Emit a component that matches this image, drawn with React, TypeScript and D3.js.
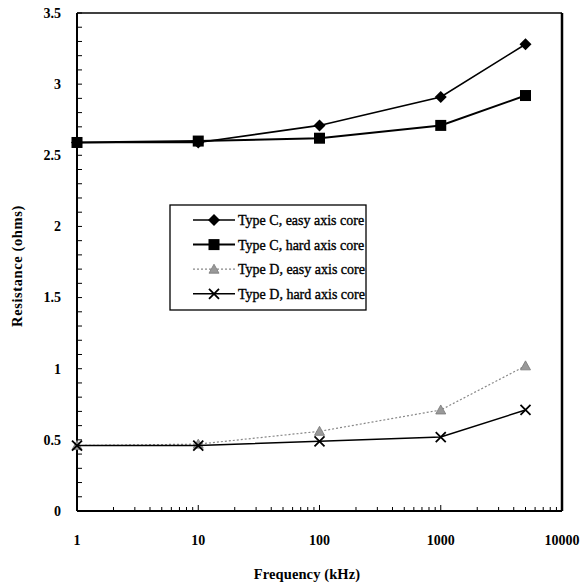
import React from "react";
import * as d3 from "d3";

const freqs = [1, 10, 100, 1000, 5000];
const typeCEasy = [2.59, 2.59, 2.71, 2.91, 3.28];
const typeCHard = [2.59, 2.6, 2.62, 2.71, 2.92];
const typeDEasy = [0.46, 0.47, 0.56, 0.71, 1.02];
const typeDHard = [0.46, 0.46, 0.49, 0.52, 0.71];
const seriesNames = [
  "Type C, easy axis core",
  "Type C, hard axis core",
  "Type D, easy axis core",
  "Type D, hard axis core",
];
const xTicks = [1, 10, 100, 1000, 10000];
const yTicks = [0, 0.5, 1, 1.5, 2, 2.5, 3, 3.5];

const W = 587;
const H = 584;
const left = 77;
const right = 562;
const top = 13;
const bottom = 511;

const FONT = "Liberation Serif, DejaVu Serif, serif";

export default function App() {
  const x = d3.scaleLog().domain([1, 10000]).range([left, right]);
  const y = d3.scaleLinear().domain([0, 3.5]).range([bottom, top]);
  const line = d3
    .line<[number, number]>()
    .x((d) => x(d[0]))
    .y((d) => y(d[1]));

  const series = [
    { name: seriesNames[0], vals: typeCEasy, color: "#000", width: 1.6, dash: "", marker: "diamond" },
    { name: seriesNames[1], vals: typeCHard, color: "#000", width: 2, dash: "", marker: "square" },
    { name: seriesNames[2], vals: typeDEasy, color: "#888", width: 1.2, dash: "2,2", marker: "triangle" },
    { name: seriesNames[3], vals: typeDHard, color: "#000", width: 1.5, dash: "", marker: "x" },
  ];

  const marker = (type: string, cx: number, cy: number, color: string, key: string) => {
    if (type === "diamond") {
      const s = 6;
      return <path key={key} d={`M${cx},${cy - s}L${cx + s},${cy}L${cx},${cy + s}L${cx - s},${cy}Z`} fill={color} />;
    }
    if (type === "square") {
      const s = 5.5;
      return <rect key={key} x={cx - s} y={cy - s} width={2 * s} height={2 * s} fill={color} />;
    }
    if (type === "triangle") {
      const s = 5;
      return (
        <path
          key={key}
          d={`M${cx},${cy - s}L${cx + s},${cy + s * 0.8}L${cx - s},${cy + s * 0.8}Z`}
          fill="#999"
          stroke="#777"
          strokeWidth={0.8}
        />
      );
    }
    const s = 5;
    return (
      <path
        key={key}
        d={`M${cx - s},${cy - s}L${cx + s},${cy + s}M${cx + s},${cy - s}L${cx - s},${cy + s}`}
        stroke={color}
        strokeWidth={1.8}
        fill="none"
      />
    );
  };

  const minorX: number[] = [];
  for (let dec = 1; dec < 10000; dec *= 10) {
    for (let k = 2; k <= 9; k++) minorX.push(dec * k);
  }
  const minorY = d3.range(0, 3.5001, 0.1).map((v) => Math.round(v * 10) / 10);

  const legX = 170;
  const legY = 205;
  const legW = 196;
  const legH = 105;
  const ts = { fontFamily: FONT, fontWeight: 700 as const };

  return (
    <svg width={W} height={H} style={{ display: "block", position: "absolute", left: 0, top: 0 }}>
      <rect x={0} y={0} width={W} height={H} fill="#fff" />
      {minorY.map((v, i) => (
        <line key={"my" + i} x1={left} x2={left + 5} y1={y(v)} y2={y(v)} stroke="#000" strokeWidth={1} />
      ))}
      {minorX.map((v, i) => (
        <line key={"mx" + i} x1={x(v)} x2={x(v)} y1={bottom} y2={bottom - 4} stroke="#000" strokeWidth={1} />
      ))}
      {xTicks.map((v, i) => (
        <line key={"xt" + i} x1={x(v)} x2={x(v)} y1={bottom} y2={bottom - 6} stroke="#000" strokeWidth={1} />
      ))}
      <line x1={left} x2={right} y1={top} y2={top} stroke="#000" strokeWidth={1.5} />
      <line x1={right} x2={right} y1={top} y2={bottom} stroke="#000" strokeWidth={2.5} />
      <line x1={left} x2={right} y1={bottom} y2={bottom} stroke="#000" strokeWidth={2} />
      <line x1={left} x2={left} y1={top} y2={bottom} stroke="#000" strokeWidth={2} />

      {yTicks.map((v, i) => (
        <text key={"yl" + i} x={61} y={y(v)} dy="0.35em" textAnchor="end" fontSize={14} style={ts}>
          {String(v)}
        </text>
      ))}
      {xTicks.map((v, i) => (
        <text key={"xl" + i} x={x(v)} y={545} textAnchor="middle" fontSize={14} style={ts}>
          {String(v)}
        </text>
      ))}
      <text x={307} y={579} textAnchor="middle" fontSize={14.5} style={ts} letterSpacing={0.1}>
        Frequency (kHz)
      </text>
      <text transform={`translate(22,266) rotate(-90)`} textAnchor="middle" fontSize={14.5} style={ts} letterSpacing={0.6}>
        Resistance (ohms)
      </text>

      {series.map((s, si) => {
        const pts = freqs.map((f, i) => [f, s.vals[i]] as [number, number]);
        return (
          <g key={"s" + si}>
            <path d={line(pts) || ""} fill="none" stroke={s.color} strokeWidth={s.width} strokeDasharray={s.dash} />
            {pts.map((p, i) => marker(s.marker, x(p[0]), y(p[1]), s.color, "m" + si + "_" + i))}
          </g>
        );
      })}

      <rect x={legX} y={legY} width={legW} height={legH} fill="#fff" stroke="#000" strokeWidth={1.3} />
      {series.map((s, i) => {
        const cy = 220 + i * 24.6;
        return (
          <g key={"lg" + i}>
            <line x1={193} x2={235} y1={cy} y2={cy} stroke={s.color} strokeWidth={s.width} strokeDasharray={s.dash} />
            {marker(s.marker, 214, cy, s.color, "lm" + i)}
            <text
              x={238}
              y={cy}
              dy="0.35em"
              fontSize={14}
              style={{ fontFamily: FONT, fontWeight: 400 }}
              stroke="#000"
              strokeWidth={0.35}
            >
              {s.name}
            </text>
          </g>
        );
      })}
    </svg>
  );
}
